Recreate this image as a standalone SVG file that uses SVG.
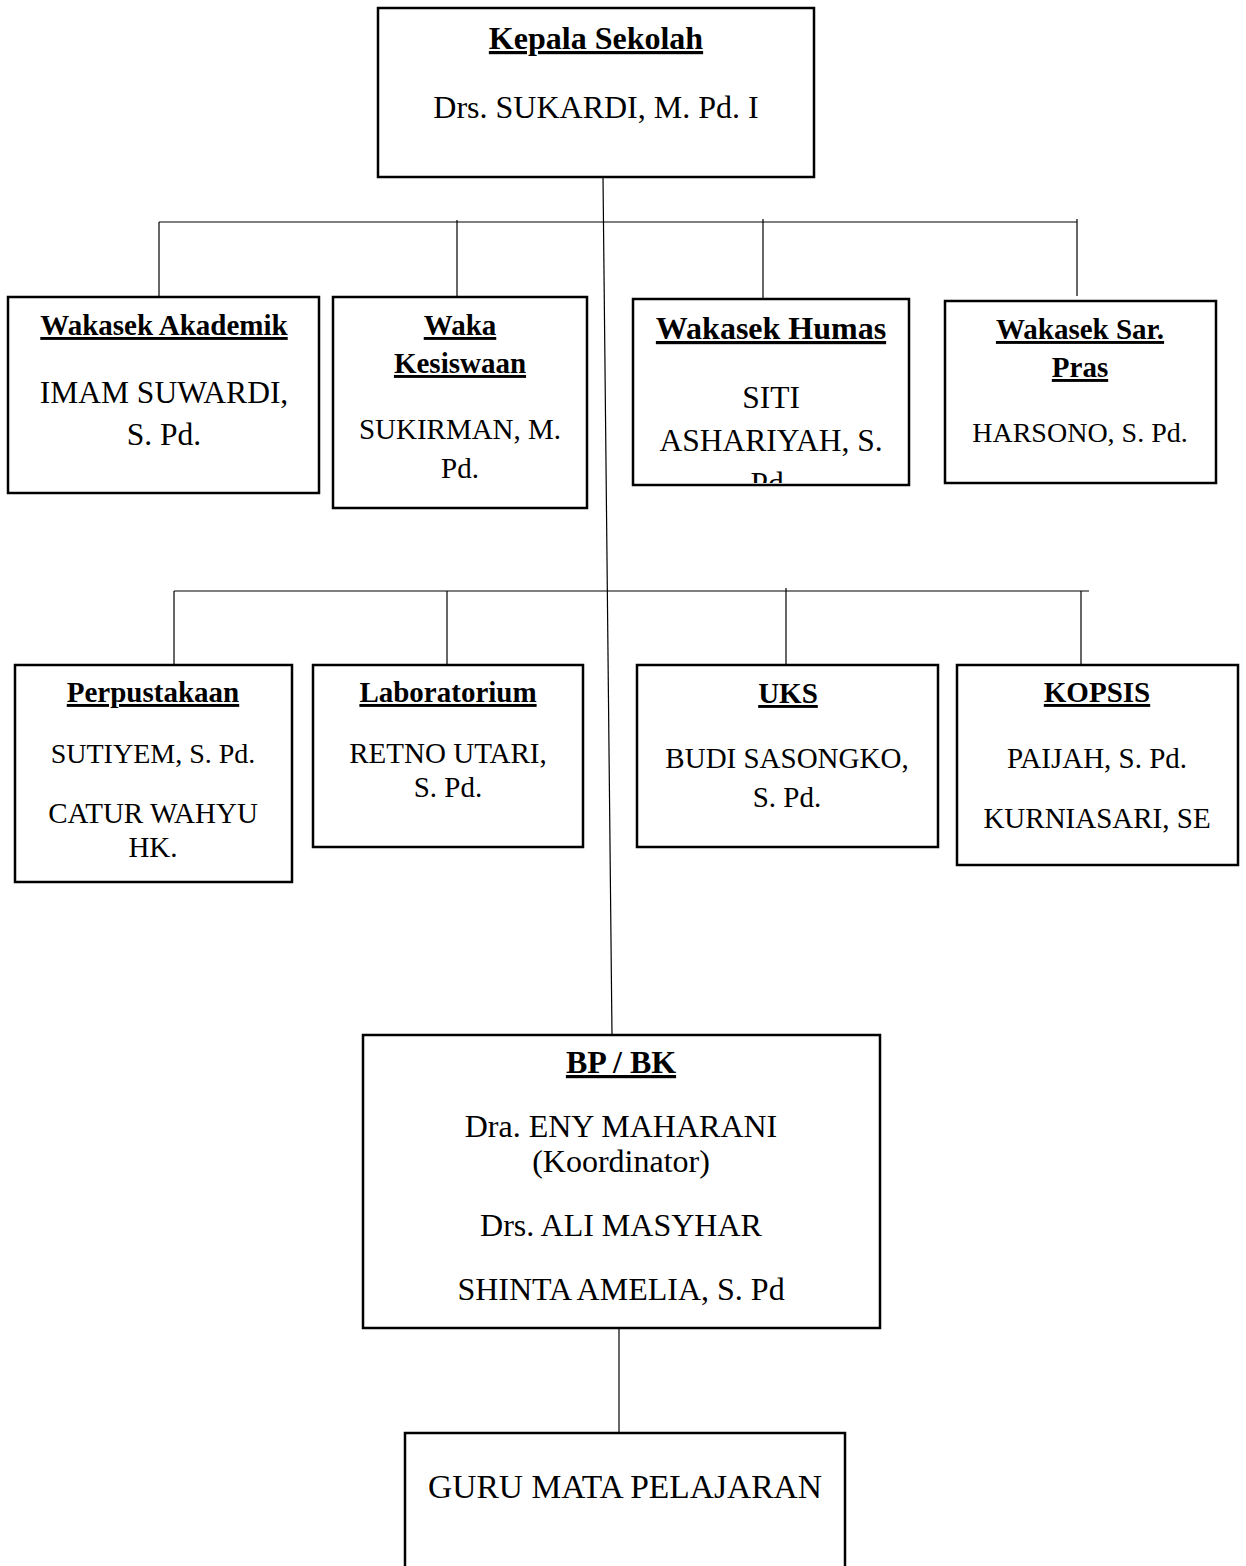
<svg xmlns="http://www.w3.org/2000/svg" width="1246" height="1566" viewBox="0 0 1246 1566">
<style>
.box{fill:#fff;stroke:#000;stroke-width:2.5}
.con{stroke:#000;stroke-width:1.2;fill:none}
text{font-family:"Liberation Serif","Times New Roman",serif;fill:#000;text-anchor:middle}
.t{font-weight:bold;text-decoration:underline}
</style>
<defs>
<clipPath id="clipHumas"><rect x="634" y="300" width="274" height="183"/></clipPath>
</defs>
<rect width="1246" height="1566" fill="#fff"/>
<g id="connectors">
<line class="con" x1="603" y1="177" x2="612" y2="1035"/>
<line class="con" x1="159" y1="222" x2="1077" y2="222"/>
<line class="con" x1="159" y1="222" x2="159" y2="297"/>
<line class="con" x1="457" y1="220" x2="457" y2="297"/>
<line class="con" x1="763" y1="219" x2="763" y2="299"/>
<line class="con" x1="1077" y1="219" x2="1077" y2="296"/>
<line class="con" x1="174" y1="591" x2="1089" y2="591"/>
<line class="con" x1="174" y1="591" x2="174" y2="665"/>
<line class="con" x1="447" y1="591" x2="447" y2="665"/>
<line class="con" x1="786" y1="588" x2="786" y2="665"/>
<line class="con" x1="1081" y1="591" x2="1081" y2="665"/>
<line class="con" x1="619" y1="1328" x2="619" y2="1433"/>
</g>
<g id="kepala">
<rect class="box" x="378" y="8" width="436" height="169"/>
<text class="t" x="596" y="49" font-size="32">Kepala Sekolah</text>
<text x="596" y="118" font-size="32">Drs. SUKARDI, M. Pd. I</text>
</g>
<g id="akademik">
<rect class="box" x="8" y="297" width="311" height="196"/>
<text class="t" x="164" y="335" font-size="29">Wakasek Akademik</text>
<text x="164" y="403" font-size="31.5">IMAM SUWARDI,</text>
<text x="164" y="445" font-size="31.5">S. Pd.</text>
</g>
<g id="kesiswaan">
<rect class="box" x="333" y="297" width="254" height="211"/>
<text class="t" x="460" y="335" font-size="29">Waka</text>
<text class="t" x="460" y="373" font-size="29">Kesiswaan</text>
<text x="460" y="439" font-size="29">SUKIRMAN, M.</text>
<text x="460" y="478" font-size="29">Pd.</text>
</g>
<g id="humas">
<rect class="box" x="633" y="299" width="276" height="186"/>
<text class="t" x="771" y="339" font-size="32">Wakasek Humas</text>
<g clip-path="url(#clipHumas)">
<text x="771" y="408" font-size="31.5">SITI</text>
<text x="771" y="451" font-size="31.5">ASHARIYAH, S.</text>
<text x="771" y="494" font-size="31.5">Pd.</text>
</g>
</g>
<g id="sarpras">
<rect class="box" x="945" y="301" width="271" height="182"/>
<text class="t" x="1080" y="339" font-size="29">Wakasek Sar.</text>
<text class="t" x="1080" y="377" font-size="29">Pras</text>
<text x="1080" y="442" font-size="28">HARSONO, S. Pd.</text>
</g>
<g id="perpustakaan">
<rect class="box" x="15" y="665" width="277" height="217"/>
<text class="t" x="153" y="702" font-size="29">Perpustakaan</text>
<text x="153" y="763" font-size="28">SUTIYEM, S. Pd.</text>
<text x="153" y="823" font-size="29">CATUR WAHYU</text>
<text x="153" y="857" font-size="29">HK.</text>
</g>
<g id="laboratorium">
<rect class="box" x="313" y="665" width="270" height="182"/>
<text class="t" x="448" y="702" font-size="29">Laboratorium</text>
<text x="448" y="763" font-size="29">RETNO UTARI,</text>
<text x="448" y="797" font-size="29">S. Pd.</text>
</g>
<g id="uks">
<rect class="box" x="637" y="665" width="301" height="182"/>
<text class="t" x="788" y="703" font-size="29">UKS</text>
<text x="787" y="768" font-size="29">BUDI SASONGKO,</text>
<text x="787" y="807" font-size="29">S. Pd.</text>
</g>
<g id="kopsis">
<rect class="box" x="957" y="665" width="281" height="200"/>
<text class="t" x="1097" y="702" font-size="29">KOPSIS</text>
<text x="1097" y="768" font-size="29">PAIJAH, S. Pd.</text>
<text x="1097" y="828" font-size="29">KURNIASARI, SE</text>
</g>
<g id="bpbk">
<rect class="box" x="363" y="1035" width="517" height="293"/>
<text class="t" x="621" y="1073" font-size="32">BP / BK</text>
<text x="621" y="1137" font-size="32">Dra. ENY MAHARANI</text>
<text x="621" y="1172" font-size="32">(Koordinator)</text>
<text x="621" y="1236" font-size="32">Drs. ALI MASYHAR</text>
<text x="621" y="1300" font-size="32">SHINTA AMELIA, S. Pd</text>
</g>
<g id="guru">
<rect class="box" x="405" y="1433" width="440" height="160"/>
<text x="625" y="1498" font-size="33.5">GURU MATA PELAJARAN</text>
</g>
</svg>
